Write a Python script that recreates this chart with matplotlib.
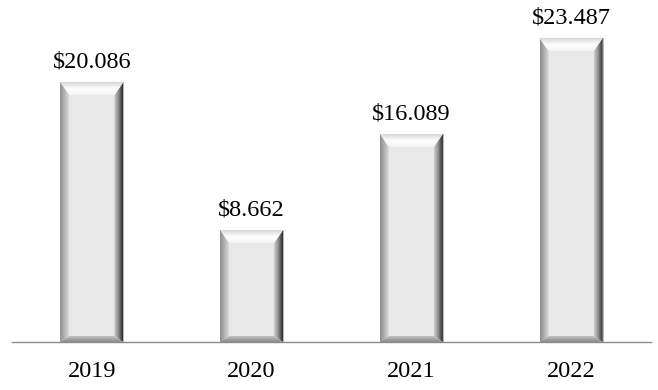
import numpy as np
import matplotlib
matplotlib.use("Agg")
import matplotlib.pyplot as plt
from matplotlib.patches import Polygon
from matplotlib.colors import LinearSegmentedColormap

years = ["2019", "2020", "2021", "2022"]
values = [20.086, 8.662, 16.089, 23.487]
labels = ["$20.086", "$8.662", "$16.089", "$23.487"]

plt.rcParams['font.family'] = ['Liberation Serif', 'DejaVu Serif']

fig = plt.figure(figsize=(6.58, 3.9), dpi=100)
ax = fig.add_axes([12/658, 48/390, 639/658, 342/390])
ax.set_xlim(-0.5, 3.5)
ax.set_ylim(0, 26.43)

x = np.arange(len(years))
w = 0.395
bars = ax.bar(x, values, width=w, color="#e8e8e8", edgecolor="#a0a0a0", linewidth=0.5, zorder=2)

# bevel sizes in pixels -> data units
px_x = 4.0 / 639.0
px_y = 26.43 / 342.0
side = 9 * px_x
top = 13 * px_y
bot = 6 * px_y

def grad(ax, poly, colors, horizontal, x0, x1, y0, y1):
    cmap = LinearSegmentedColormap.from_list("g", colors)
    g = np.linspace(0, 1, 64)
    arr = g[None, :] if horizontal else g[:, None]
    im = ax.imshow(arr, cmap=cmap, extent=[x0, x1, y0, y1], origin="lower",
                   aspect="auto", zorder=3, interpolation="bilinear")
    im.set_clip_path(poly)

def add_poly(pts):
    p = Polygon(pts, closed=True, transform=ax.transData,
                facecolor="none", edgecolor="none")
    ax.add_patch(p)
    return p

for b in bars:
    L = b.get_x()
    R = L + b.get_width()
    T = b.get_height()
    B = 0
    # left bevel
    p = add_poly([[L, B], [L + side, B + bot], [L + side, T - top], [L, T]])
    grad(ax, p, ["#8a8a8a", "#b4b4b4", "#dadada"], True, L, L + side, B, T)
    # right bevel
    p = add_poly([[R, B], [R - side, B + bot], [R - side, T - top], [R, T]])
    grad(ax, p, ["#d0d0d0", "#8c8c8c", "#2a2a2a"], True, R - side, R, B, T)
    # top bevel
    p = add_poly([[L, T], [L + side, T - top], [R - side, T - top], [R, T]])
    grad(ax, p, ["#f4f4f4", "#ffffff", "#d8d8d8"], False, L, R, T - top, T)
    # bottom bevel
    p = add_poly([[L, B], [L + side, B + bot], [R - side, B + bot], [R, B]])
    grad(ax, p, ["#8a8a8a", "#c4c4c4"], False, L, R, B, B + bot)

for xi, v, lab in zip(x, values, labels):
    ax.annotate(lab, (xi, v), xytext=(0, 7), textcoords="offset points",
                ha="center", va="bottom", fontsize=17.5, color="black")

for s in ["top", "right", "left"]:
    ax.spines[s].set_visible(False)
ax.spines["bottom"].set_color("#8a8a8a")
ax.spines["bottom"].set_linewidth(1.0)
ax.set_yticks([])
ax.set_xticks(x)
ax.set_xticklabels(years, fontsize=17.5)
ax.tick_params(axis="x", length=0, pad=14)

fig.savefig("out.png", dpi=100)
